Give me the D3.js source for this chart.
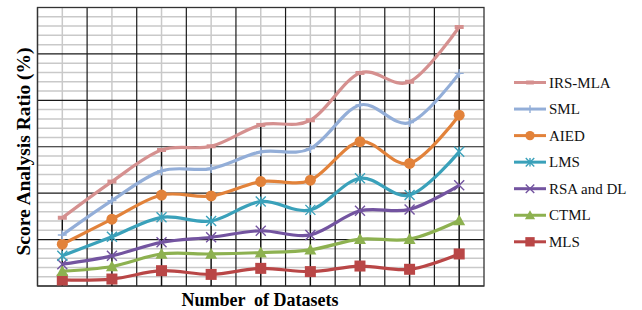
<!DOCTYPE html>
<html>
<head>
<meta charset="utf-8">
<script src="https://cdn.jsdelivr.net/npm/d3@7"></script>
<style>
  html, body { margin: 0; padding: 0; background: #fff; }
  svg { display: block; }
  text { font-family: "Liberation Serif", "Times New Roman", serif; }
</style>
</head>
<body>
<svg id="chart" width="642" height="310"></svg>
<script>
const categories = ["1", "2", "3", "4", "5", "6", "7", "8", "9"];
const seriesNames = ["IRS-MLA", "SML", "AIED", "LMS", "RSA and DL", "CTML", "MLS"];
const irsMla = [14.7, 22.5, 29.3, 30.1, 34.7, 35.7, 45.9, 44.0, 55.8];
const sml    = [11.0, 18.4, 24.8, 25.3, 28.9, 29.6, 39.0, 35.2, 45.8];
const aied   = [9.0, 14.4, 19.6, 19.4, 22.5, 22.8, 31.1, 26.4, 36.8];
const lms    = [6.5, 10.6, 14.8, 14.0, 18.2, 16.4, 23.2, 19.6, 28.9];
const rsaDl  = [4.7, 6.5, 9.4, 10.5, 11.9, 11.0, 16.2, 16.5, 21.7];
const ctml   = [3.2, 4.2, 6.9, 6.9, 7.2, 7.8, 10.1, 10.1, 14.1];
const mls    = [1.3, 1.5, 3.3, 2.5, 3.8, 3.1, 4.3, 3.6, 6.9];
const seriesValues = [irsMla, sml, aied, lms, rsaDl, ctml, mls];
const colors = ["#D5908F", "#93AED8", "#E2823A", "#3AA1BA", "#7354A0", "#8DB150", "#B94646"];
const markers = ["dash", "plus", "circle", "star", "x", "triangle", "square"];

const svg = d3.select("#chart");
const pLeft = 37.5, pRight = 484, pTop = 7.5, pBottom = 286;

const x = d3.scaleBand().domain(categories).range([pLeft, pRight]).padding(0);
const y = d3.scaleLinear().domain([0, 60]).range([pBottom, pTop]);
const cx = d => x(d) + x.bandwidth() / 2;

const grid = svg.append("g");
// minor horizontal
d3.range(0, 61, 2).filter(v => v % 10 !== 0).forEach(v => {
  grid.append("line").attr("x1", pLeft).attr("x2", pRight)
    .attr("y1", y(v)).attr("y2", y(v))
    .attr("stroke", "#c9c9c9").attr("stroke-width", 1.5);
});
// minor vertical (category centers)
categories.forEach(c => {
  grid.append("line").attr("x1", cx(c)).attr("x2", cx(c))
    .attr("y1", pTop).attr("y2", pBottom)
    .attr("stroke", "#c9c9c9").attr("stroke-width", 1.5);
});
// major horizontal
d3.range(0, 61, 10).forEach(v => {
  grid.append("line").attr("x1", pLeft).attr("x2", pRight)
    .attr("y1", y(v)).attr("y2", y(v))
    .attr("stroke", "#1a1a1a").attr("stroke-width", 1.2);
});
// major vertical (category boundaries)
categories.forEach(c => {
  grid.append("line").attr("x1", x(c)).attr("x2", x(c))
    .attr("y1", pTop).attr("y2", pBottom)
    .attr("stroke", "#1a1a1a").attr("stroke-width", 1.2);
});
// border
grid.append("rect").attr("x", pLeft).attr("y", pTop)
  .attr("width", pRight - pLeft).attr("height", pBottom - pTop)
  .attr("fill", "none").attr("stroke", "#333").attr("stroke-width", 1.3);

// drop lines
categories.forEach((c, i) => {
  const mx = d3.max(seriesValues, s => s[i]);
  grid.append("line").attr("x1", cx(c)).attr("x2", cx(c))
    .attr("y1", y(mx)).attr("y2", pBottom)
    .attr("stroke", "#111").attr("stroke-width", 1.4);
});

const line = d3.line()
  .x((d, i) => cx(categories[i]))
  .y(d => y(d))
  .curve(d3.curveCardinal.tension(0));

function drawMarker(g, type, px, py, color, scale) {
  const s = scale || 1;
  if (type === "circle") {
    g.append("circle").attr("cx", px).attr("cy", py).attr("r", 5.5 * s).attr("fill", color);
  } else if (type === "square") {
    g.append("rect").attr("x", px - 5.5 * s).attr("y", py - 5.5 * s)
      .attr("width", 11 * s).attr("height", 11 * s).attr("fill", color);
  } else if (type === "triangle") {
    const h = 6 * s;
    g.append("path").attr("d", `M${px},${py - h} L${px + h},${py + h * 0.8} L${px - h},${py + h * 0.8} Z`).attr("fill", color);
  } else if (type === "x") {
    const h = 5 * s;
    g.append("path").attr("d", `M${px - h},${py - h} L${px + h},${py + h} M${px - h},${py + h} L${px + h},${py - h}`)
      .attr("stroke", color).attr("stroke-width", 1.4).attr("fill", "none");
  } else if (type === "star") {
    const h = 5 * s;
    g.append("path").attr("d", `M${px - h},${py - h} L${px + h},${py + h} M${px - h},${py + h} L${px + h},${py - h} M${px},${py - h} L${px},${py + h}`)
      .attr("stroke", color).attr("stroke-width", 1.4).attr("fill", "none");
  } else if (type === "plus") {
    const h = 4.5 * s;
    g.append("path").attr("d", `M${px - h},${py} L${px + h},${py} M${px},${py - h} L${px},${py + h}`)
      .attr("stroke", color).attr("stroke-width", 1.4).attr("fill", "none");
  } else if (type === "dash") {
    const h = 4.5 * s;
    g.append("path").attr("d", `M${px - h},${py} L${px + h},${py}`)
      .attr("stroke", color).attr("stroke-width", 4).attr("fill", "none");
  }
}

const plot = svg.append("g");
for (let k = seriesValues.length - 1; k >= 0; k--) {
  const vals = seriesValues[k];
  const g = plot.append("g");
  g.append("path").datum(vals).attr("d", line)
    .attr("fill", "none").attr("stroke", colors[k]).attr("stroke-width", 3.2)
    .attr("stroke-linejoin", "round");
  vals.forEach((v, i) => drawMarker(g, markers[k], cx(categories[i]), y(v), colors[k]));
}

// legend
const leg = svg.append("g");
const legY0 = 82.5, legStep = 26.55;
seriesNames.forEach((name, k) => {
  const ly = legY0 + k * legStep;
  leg.append("line").attr("x1", 514).attr("x2", 546).attr("y1", ly).attr("y2", ly)
    .attr("stroke", colors[k]).attr("stroke-width", 3);
  drawMarker(leg, markers[k], 530, ly, colors[k], 0.85);
  leg.append("text").attr("x", 549).attr("y", ly + 5)
    .attr("font-size", 15).attr("fill", "#111").text(name);
});

// axis titles
svg.append("text").attr("x", 260).attr("y", 306)
  .attr("text-anchor", "middle").attr("font-size", 18).attr("font-weight", "bold")
  .style("white-space", "pre").attr("fill", "#000").text("Number  of Datasets");
svg.append("text").attr("transform", "translate(30,151.5) rotate(-90)")
  .attr("text-anchor", "middle").attr("font-size", 19.5).attr("font-weight", "bold")
  .attr("fill", "#000").text("Score Analysis Ratio (%)");
</script>
</body>
</html>
